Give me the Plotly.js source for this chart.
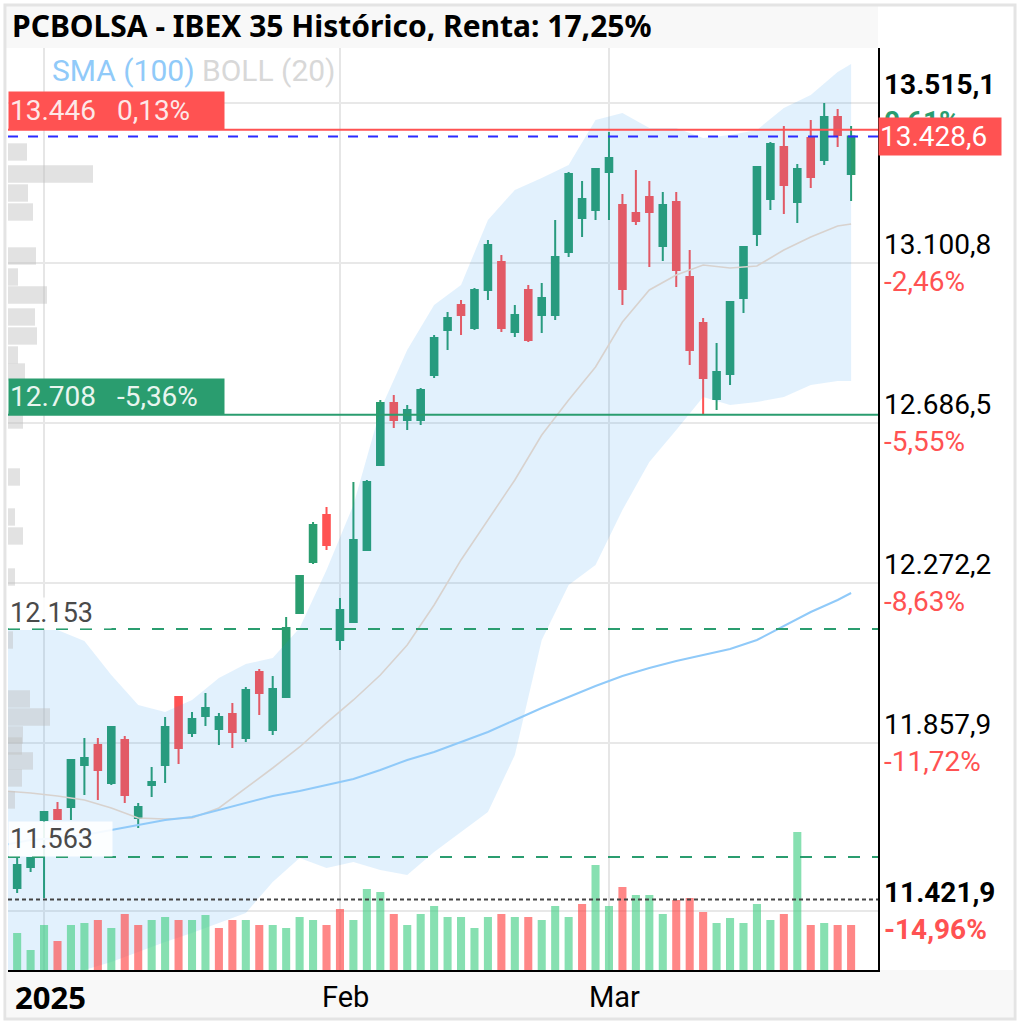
<!DOCTYPE html>
<html>
<head>
<meta charset="utf-8">
<script src="https://cdn.plot.ly/plotly-3.0.1.min.js"></script>
<style>html,body{margin:0;padding:0;background:#fff;}#chart{width:1020px;height:1025px;}</style>
</head>
<body>
<div id="chart"></div>
<script>
// ---- data ----
const dates = ['2024-12-27','2024-12-30','2024-12-31',
 '2025-01-02','2025-01-03','2025-01-06','2025-01-07','2025-01-08','2025-01-09','2025-01-10','2025-01-13','2025-01-14','2025-01-15','2025-01-16','2025-01-17','2025-01-20','2025-01-21','2025-01-22','2025-01-23','2025-01-24','2025-01-27','2025-01-28','2025-01-29','2025-01-30','2025-01-31',
 '2025-02-03','2025-02-04','2025-02-05','2025-02-06','2025-02-07','2025-02-10','2025-02-11','2025-02-12','2025-02-13','2025-02-14','2025-02-17','2025-02-18','2025-02-19','2025-02-20','2025-02-21','2025-02-24','2025-02-25','2025-02-26','2025-02-27','2025-02-28',
 '2025-03-03','2025-03-04','2025-03-05','2025-03-06','2025-03-07','2025-03-10','2025-03-11','2025-03-12','2025-03-13','2025-03-14','2025-03-17','2025-03-18','2025-03-19','2025-03-20','2025-03-21','2025-03-24','2025-03-25','2025-03-26','2025-03-27'];

const openP = [11438.7,11482.8,11537.1,
 11658.8,11684.8,11692.6,11801.3,11853.0,11754.7,11866.0,11664.0,11749.5,11801.3,11977.2,11884.1,11928.1,11894.4,11933.3,11871.2,12042.0,11891.8,11977.2,12194.7,12326.8,12448.5,
 12124.9,12171.5,12357.8,12577.9,12738.4,12694.4,12694.4,12810.9,12927.5,12992.2,12932.7,13031.0,13103.5,12922.3,13031.0,12966.3,12966.3,13129.4,13217.4,13238.1,
 13336.5,13251.1,13230.4,13271.8,13144.9,13258.8,13064.7,12945.6,12748.8,12813.5,13010.3,13176.0,13266.6,13401.2,13258.8,13424.5,13367.6,13478.9,13331.3];
const highP = [11563.0,11563.0,11563.0,
 11682.1,11705.5,11814.2,11871.2,11871.2,11902.2,11876.3,11702.9,11796.1,11925.5,11977.2,11938.4,11987.6,11935.9,11961.7,12003.1,12049.7,12031.6,12184.4,12290.5,12430.3,12469.2,
 12233.6,12533.9,12539.1,12746.2,12759.1,12733.3,12777.3,12914.5,12974.0,13005.1,13036.2,13160.5,13121.6,12992.2,13044.0,13049.2,13212.2,13336.5,13313.2,13344.3,
 13440.1,13279.5,13341.7,13313.2,13284.7,13284.7,13134.6,12958.5,12893.7,13000.1,13142.3,13349.4,13414.2,13455.6,13357.2,13471.1,13515.1,13499.6,13455.6];
const lowP = [11421.9,11469.8,11524.2,
 11456.8,11658.8,11658.8,11723.6,11710.7,11749.5,11702.9,11638.1,11718.5,11754.7,11803.8,11873.7,11902.2,11853.0,11845.3,11860.8,11930.7,11878.9,11977.2,12194.7,12321.6,12357.8,
 12099.0,12171.5,12357.8,12577.9,12673.7,12668.5,12681.5,12803.1,12875.6,12914.5,12927.5,13005.1,12922.3,12909.3,12896.4,12919.6,12953.4,13116.5,13168.2,13212.2,
 13212.2,12992.2,13199.3,13090.5,13106.1,13038.8,12836.8,12708.0,12720.3,12785.0,12971.5,13144.9,13238.1,13227.8,13204.5,13295.1,13354.6,13401.2,13261.4];
const closeP = [11530.0,11542.3,11560.4,
 11679.5,11661.4,11814.2,11819.3,11788.3,11899.6,11723.6,11692.6,11757.3,11899.6,11845.3,11920.3,11948.8,11925.5,11886.7,11995.4,11987.6,11998.0,12155.9,12290.5,12422.6,12370.8,
 12202.5,12383.7,12533.9,12738.4,12694.4,12720.3,12772.1,12906.8,12958.5,12966.3,13031.0,13147.5,12932.7,12966.3,12901.5,13010.3,13116.5,13331.3,13266.6,13344.3,
 13372.7,13033.6,13209.7,13232.9,13251.1,13082.8,12875.6,12803.1,12818.7,13000.1,13142.3,13349.4,13409.0,13302.8,13344.3,13323.6,13478.9,13432.3,13428.6];
const volume = [30,37,20,
 45,29,45,47,50,42,56,45,50,53,50,50,55,42,50,50,45,45,42,53,50,45,
 61,50,81,78,56,45,56,64,53,53,42,53,56,53,53,50,64,53,66,105,
 64,83,75,75,56,70,72,58,47,52,47,66,50,56,138,45,47,45,45];

// indicator readings (every second session)
const indDates = ['2024-12-27','2024-12-31','2025-01-03','2025-01-07','2025-01-09','2025-01-13','2025-01-15','2025-01-17','2025-01-21','2025-01-23','2025-01-27','2025-01-29','2025-01-31','2025-02-04','2025-02-06','2025-02-10','2025-02-12','2025-02-14','2025-02-18','2025-02-20','2025-02-24','2025-02-26','2025-02-28','2025-03-04','2025-03-06','2025-03-10','2025-03-12','2025-03-14','2025-03-18','2025-03-20','2025-03-24','2025-03-26','2025-03-27'];
const bollUpper = [12150.7,12150.7,12150.7,12122.3,12034.2,11956.6,11938.4,11969.5,12026.5,12062.7,12078.2,12155.9,12306.1,12474.4,12720.3,12875.6,12992.2,13043.9,13212.2,13289.9,13321.0,13354.6,13471.1,13489.2,13450.4,13450.4,13424.5,13432.3,13445.2,13502.2,13535.8,13595.4,13616.1];
const bollLower = [11192.8,11218.7,11244.6,11270.5,11291.2,11317.1,11343.0,11366.3,11392.2,11418.0,11498.3,11560.4,11534.5,11550.1,11529.4,11516.4,11576.0,11627.8,11679.5,11827.1,12124.8,12267.2,12319.0,12461.4,12585.7,12668.5,12754.0,12733.3,12741.0,12754.0,12785.0,12795.4,12795.4];
const bollMid = [11733.9,11728.7,11721.0,11710.6,11689.9,11664.0,11661.4,11664.0,11689.9,11741.7,11793.4,11847.8,11910.0,11969.5,12034.2,12111.9,12215.5,12332.0,12435.5,12539.1,12655.6,12746.2,12831.6,12948.1,13031.0,13069.8,13095.7,13087.9,13093.1,13134.5,13168.2,13196.7,13201.9];
const sma100 = [11594.1,11607.0,11612.2,11620.0,11632.9,11645.9,11658.8,11666.6,11684.7,11702.9,11721.0,11733.9,11749.4,11765.0,11788.3,11814.2,11834.9,11860.8,11886.7,11917.7,11948.8,11977.3,12005.7,12031.6,12052.3,12070.5,12086.0,12101.5,12124.8,12161.1,12197.3,12228.4,12246.5];

// volume profile (price level, relative size)
const profileLevels = [13388.3,13331.3,13282.1,13232.9,13119.0,13064.6,13018.0,12961.1,12911.9,12862.7,12818.7,12694.4,12546.8,12443.3,12394.1,12287.9,12124.8,11972.1,11925.5,11878.9,11850.4,11811.6,11767.6,11710.6];
const profileSize = [19,85,20,25,28,10,39,27,29,10,17,15,12,7,15,7,5,22,42,15,14,25,14,7];

// axis labels
const priceTicks = [13515.1,13100.8,12686.5,12272.2,11857.9,11421.9];
const priceTickText = ['13.515,1','13.100,8','12.686,5','12.272,2','11.857,9','11.421,9'];
const pctTickText = ['0,61%','-2,46%','-5,55%','-8,63%','-11,72%','-14,96%'];
const monthTicks = ['2025-01-02','2025-02-03','2025-03-03'];
const monthText = ['<b>2025</b>','Feb','Mar'];

// reference levels
const lastClose = 13428.6;
const resistance = 13446, resistancePct = '0,13%';
const support = 12708, supportPct = '-5,36%';
const level2 = 12153, level3 = 11563;
const basePrice = 11453; // start price for "Renta: 17,25%"

// ---- styles ----
const G = '#2a9d6f', R = '#ff5252';
const volColors = volume.map((v, k) => {
  const up = k === 0 ? closeP[0] >= openP[0] : closeP[k] >= closeP[k - 1];
  return up ? 'rgba(70,208,135,0.65)' : 'rgba(255,70,70,0.65)';
});
const LF = 'Roboto, "Noto Sans", sans-serif';

const traces = [
  {type:'scatter', mode:'lines', x:indDates, y:bollUpper, line:{width:0, color:'rgba(0,0,0,0)'}, hoverinfo:'skip'},
  {type:'scatter', mode:'lines', x:indDates, y:bollLower, line:{width:0, color:'rgba(0,0,0,0)'}, fill:'tonexty', fillcolor:'rgba(33,150,243,0.13)', hoverinfo:'skip'},
  {type:'scatter', mode:'lines', x:indDates, y:bollMid, line:{width:1.6, color:'#d8d2ce'}, hoverinfo:'skip'},
  {type:'scatter', mode:'lines', x:indDates, y:sma100, line:{width:2, color:'#90caf9'}, hoverinfo:'skip'},
  {type:'candlestick', x:dates, open:openP, high:highP, low:lowP, close:closeP,
   increasing:{line:{color:G, width:2}, fillcolor:G},
   decreasing:{line:{color:R, width:2}, fillcolor:R}, whiskerwidth:0, hoverinfo:'skip'},
  {type:'bar', x:dates, y:volume, yaxis:'y2', marker:{color:volColors, line:{width:0}}, width:0.6, hoverinfo:'skip'},
  {type:'bar', orientation:'h', y:profileLevels, x:profileSize, xaxis:'x3', yaxis:'y', width:45,
   marker:{color:'rgba(190,190,190,0.45)', line:{width:0}}, hoverinfo:'skip'}
];

const px = (p) => (970 - p) / 922; // helper for paper y from pixel (layout only)
const annotations = [
  {xref:'paper', yref:'paper', x:0.0023, y:px(26), xanchor:'left', yanchor:'middle', showarrow:false,
   text:'<b>PCBOLSA - IBEX 35 Histórico, Renta: 17,25%</b>', font:{family:'"Noto Sans", sans-serif', size:30, color:'#000'}},
  {xref:'paper', yref:'paper', x:0.048, y:px(70), xanchor:'left', yanchor:'middle', showarrow:false,
   text:'<span style="color:#90caf9">SMA (100)</span> <span style="color:#d8d8d8">BOLL (20)</span>', font:{family:LF, size:30}}
];
// right price labels
priceTicks.forEach((v, k) => {
  const bold = (k === 0 || k === priceTicks.length - 1);
  annotations.push({xref:'paper', yref:'y', x:1, xshift:4, y:v, xanchor:'left', yanchor:'bottom', showarrow:false,
    text: bold ? '<b>' + priceTickText[k] + '</b>' : priceTickText[k], font:{family:LF, size:28, color:'#000'}});
  annotations.push({xref:'paper', yref:'y', x:1, xshift:4, y:v, xanchor:'left', yanchor:'top', showarrow:false,
    text: bold ? '<b>' + pctTickText[k] + '</b>' : pctTickText[k], font:{family:LF, size:28, color: k === 0 ? G : R}});
});
// last price box
annotations.push({xref:'paper', yref:'y', x:1, y:lastClose, xanchor:'left', yanchor:'middle', showarrow:false,
  text:'13.428,6', width:120, height:35, align:'left', bgcolor:R, font:{family:LF, size:28, color:'#fff'}});
// left level boxes
annotations.push({xref:'paper', yref:'y', x:0, y:resistance, xanchor:'left', yanchor:'bottom', showarrow:false,
  text:'13.446&nbsp;&nbsp;&nbsp;' + resistancePct, width:213, height:35, align:'left', bgcolor:R, font:{family:LF, size:28, color:'#fde8e8'}});
annotations.push({xref:'paper', yref:'y', x:0, y:support, xanchor:'left', yanchor:'bottom', showarrow:false,
  text:'12.708&nbsp;&nbsp;&nbsp;' + supportPct, width:213, height:33, align:'left', bgcolor:G, font:{family:LF, size:28, color:'#e8f5ef'}});
annotations.push({xref:'paper', yref:'y', x:0, y:level2, xanchor:'left', yanchor:'bottom', showarrow:false,
  text:'12.153', width:100, height:28, align:'left', bgcolor:'rgba(255,255,255,0.85)', font:{family:LF, size:27, color:'#4a4a4a'}});
annotations.push({xref:'paper', yref:'y', x:0, y:level3, xanchor:'left', yanchor:'bottom', showarrow:false,
  text:'11.563', width:101, height:32, align:'left', bgcolor:'rgba(255,255,255,0.9)', font:{family:LF, size:27, color:'#4a4a4a'}});
// month labels
monthTicks.forEach((d, k) => {
  annotations.push({xref:'x', yref:'paper', x:d, y:px(997), xshift:6, xanchor:'center', yanchor:'middle', showarrow:false,
    text:monthText[k], font:{family: k === 0 ? '"Noto Sans", sans-serif' : LF, size: k === 0 ? 31 : 29, color:'#000'}});
});

const hline = (y, color, dash, width) => ({type:'line', xref:'paper', x0:0, x1:1, yref:'y', y0:y, y1:y, layer:'above',
  line:{color:color, width:width || 2, dash:dash || 'solid'}});

const shapes = [
  {type:'rect', xref:'paper', yref:'paper', x0:-0.0035, x1:1.0, y0:1.0, y1:1.0466, fillcolor:'#f8f8f8', line:{width:0}, layer:'below'},
  {type:'rect', xref:'paper', yref:'paper', x0:-0.0012, x1:1.1552, y0:-0.0521, y1:0, fillcolor:'#f8f8f8', line:{width:0}, layer:'below'},
  {type:'rect', xref:'paper', yref:'paper', x0:-0.0035, x1:1.1575, y0:-0.0531, y1:1.0466, fillcolor:'rgba(0,0,0,0)', line:{width:3, color:'#e4e4e4'}, layer:'above'},
  hline(resistance, R, 'solid', 2),
  hline(lastClose, '#2b2bff', '10px,10px', 2),
  hline(support, G, 'solid', 2),
  hline(level2, G, '12px,12px', 2),
  hline(level3, G, '12px,12px', 2),
  hline(basePrice, '#444', '4px,3px', 2)
];

const layout = {
  width:1020, height:1025,
  margin:{l:8, r:142, t:48, b:55, pad:0},
  paper_bgcolor:'#fff', plot_bgcolor:'#fff',
  showlegend:false, hovermode:false, dragmode:false,
  xaxis:{type:'category', categoryorder:'array', categoryarray:dates, range:[0.32, 65.0], tickvals:monthTicks, showticklabels:false, ticks:'',
    showgrid:true, gridcolor:'#e6e6e6', gridwidth:2, showline:true, linecolor:'#000', linewidth:2, zeroline:false,
    rangeslider:{visible:false}, fixedrange:true},
  xaxis3:{overlaying:'x', anchor:'y', range:[0, 870], visible:false, fixedrange:true},
  yaxis:{range:[11270.4, 13657.5], tickvals:priceTicks, showticklabels:false, ticks:'', side:'right',
    showgrid:true, gridcolor:'#e8e8e8', gridwidth:2, showline:true, linecolor:'#000', linewidth:2, zeroline:false, fixedrange:true},
  yaxis2:{overlaying:'y', range:[0, 922], visible:false, fixedrange:true},
  annotations: annotations,
  shapes: shapes
};

Plotly.newPlot('chart', traces, layout, {staticPlot:true, displayModeBar:false});
</script>
</body>
</html>
